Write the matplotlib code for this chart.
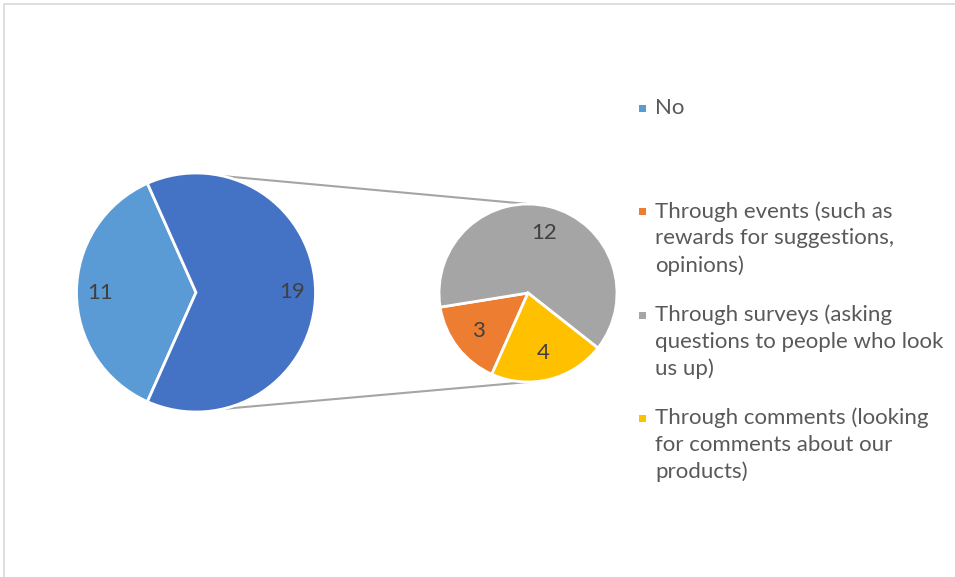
import matplotlib.pyplot as plt
import numpy as np
from matplotlib.patches import Rectangle

plt.rcParams['font.family'] = ['Lato', 'DejaVu Sans']

W, H = 955, 577

# first pie: "No" against all the "yes" answers (broken out on the right)
main_labels = ['No', 'Yes']
main_values = [11, 19]
main_colors = ['#5B9BD5', '#4472C4']

# how the "yes" answers are collected
sub_labels = ['Through events (such as\nrewards for suggestions,\nopinions)',
              'Through surveys (asking\nquestions to people who look\nus up)',
              'Through comments (looking\nfor comments about our\nproducts)']
sub_values = [3, 12, 4]
sub_colors = ['#ED7D31', '#A5A5A5', '#FFC000']

legend_labels = ['No'] + sub_labels
legend_colors = [main_colors[0]] + sub_colors

# layout in pixels (y measured from the bottom)
main_c, main_r = (196, H - 292.5), 119.5
sub_c, sub_r = (528, H - 293), 89

fig = plt.figure(figsize=(W / 100, H / 100), dpi=100)
ax = fig.add_axes([0, 0, 1, 1])


def value_fmt(values):
    total = sum(values)
    return lambda p: f'{p * total / 100:.0f}'


ax.pie(main_values, colors=main_colors, center=main_c, radius=main_r,
       startangle=246, counterclock=False,
       autopct=value_fmt(main_values), pctdistance=0.8,
       wedgeprops=dict(edgecolor='white', linewidth=2),
       textprops=dict(color='#404040', fontsize=16))

ax.pie(sub_values, colors=sub_colors, center=sub_c, radius=sub_r,
       startangle=246, counterclock=False,
       autopct=value_fmt(sub_values), pctdistance=0.7,
       wedgeprops=dict(edgecolor='white', linewidth=2),
       textprops=dict(color='#404040', fontsize=16))

# connector lines between the two pies
for a_main, a_sub in [(77, 90), (-77, -90)]:
    p0 = (main_c[0] + main_r * np.cos(np.radians(a_main)),
          main_c[1] + main_r * np.sin(np.radians(a_main)))
    p1 = (sub_c[0] + sub_r * np.cos(np.radians(a_sub)),
          sub_c[1] + sub_r * np.sin(np.radians(a_sub)))
    ax.plot([p0[0], p1[0]], [p0[1], p1[1]], color='#A5A5A5', lw=1.5, zorder=0)

# legend, one entry every ~103 px
for i, (lab, col) in enumerate(zip(legend_labels, legend_colors)):
    y_top = H - (98 + i * 103.3)
    ax.add_patch(Rectangle((639, y_top - 14), 7, 7, color=col, lw=0))
    ax.text(655, y_top, lab, ha='left', va='top', fontsize=16,
            color='#595959', linespacing=1.4)

# chart border
ax.add_patch(Rectangle((3.5, -20), W + 20, H - 3.5 + 20, fill=False,
                       edgecolor='#D9D9D9', lw=1.2))

ax.set_xlim(0, W)
ax.set_ylim(0, H)
ax.set_aspect('equal')
ax.axis('off')

plt.savefig('out.png', dpi=100)
